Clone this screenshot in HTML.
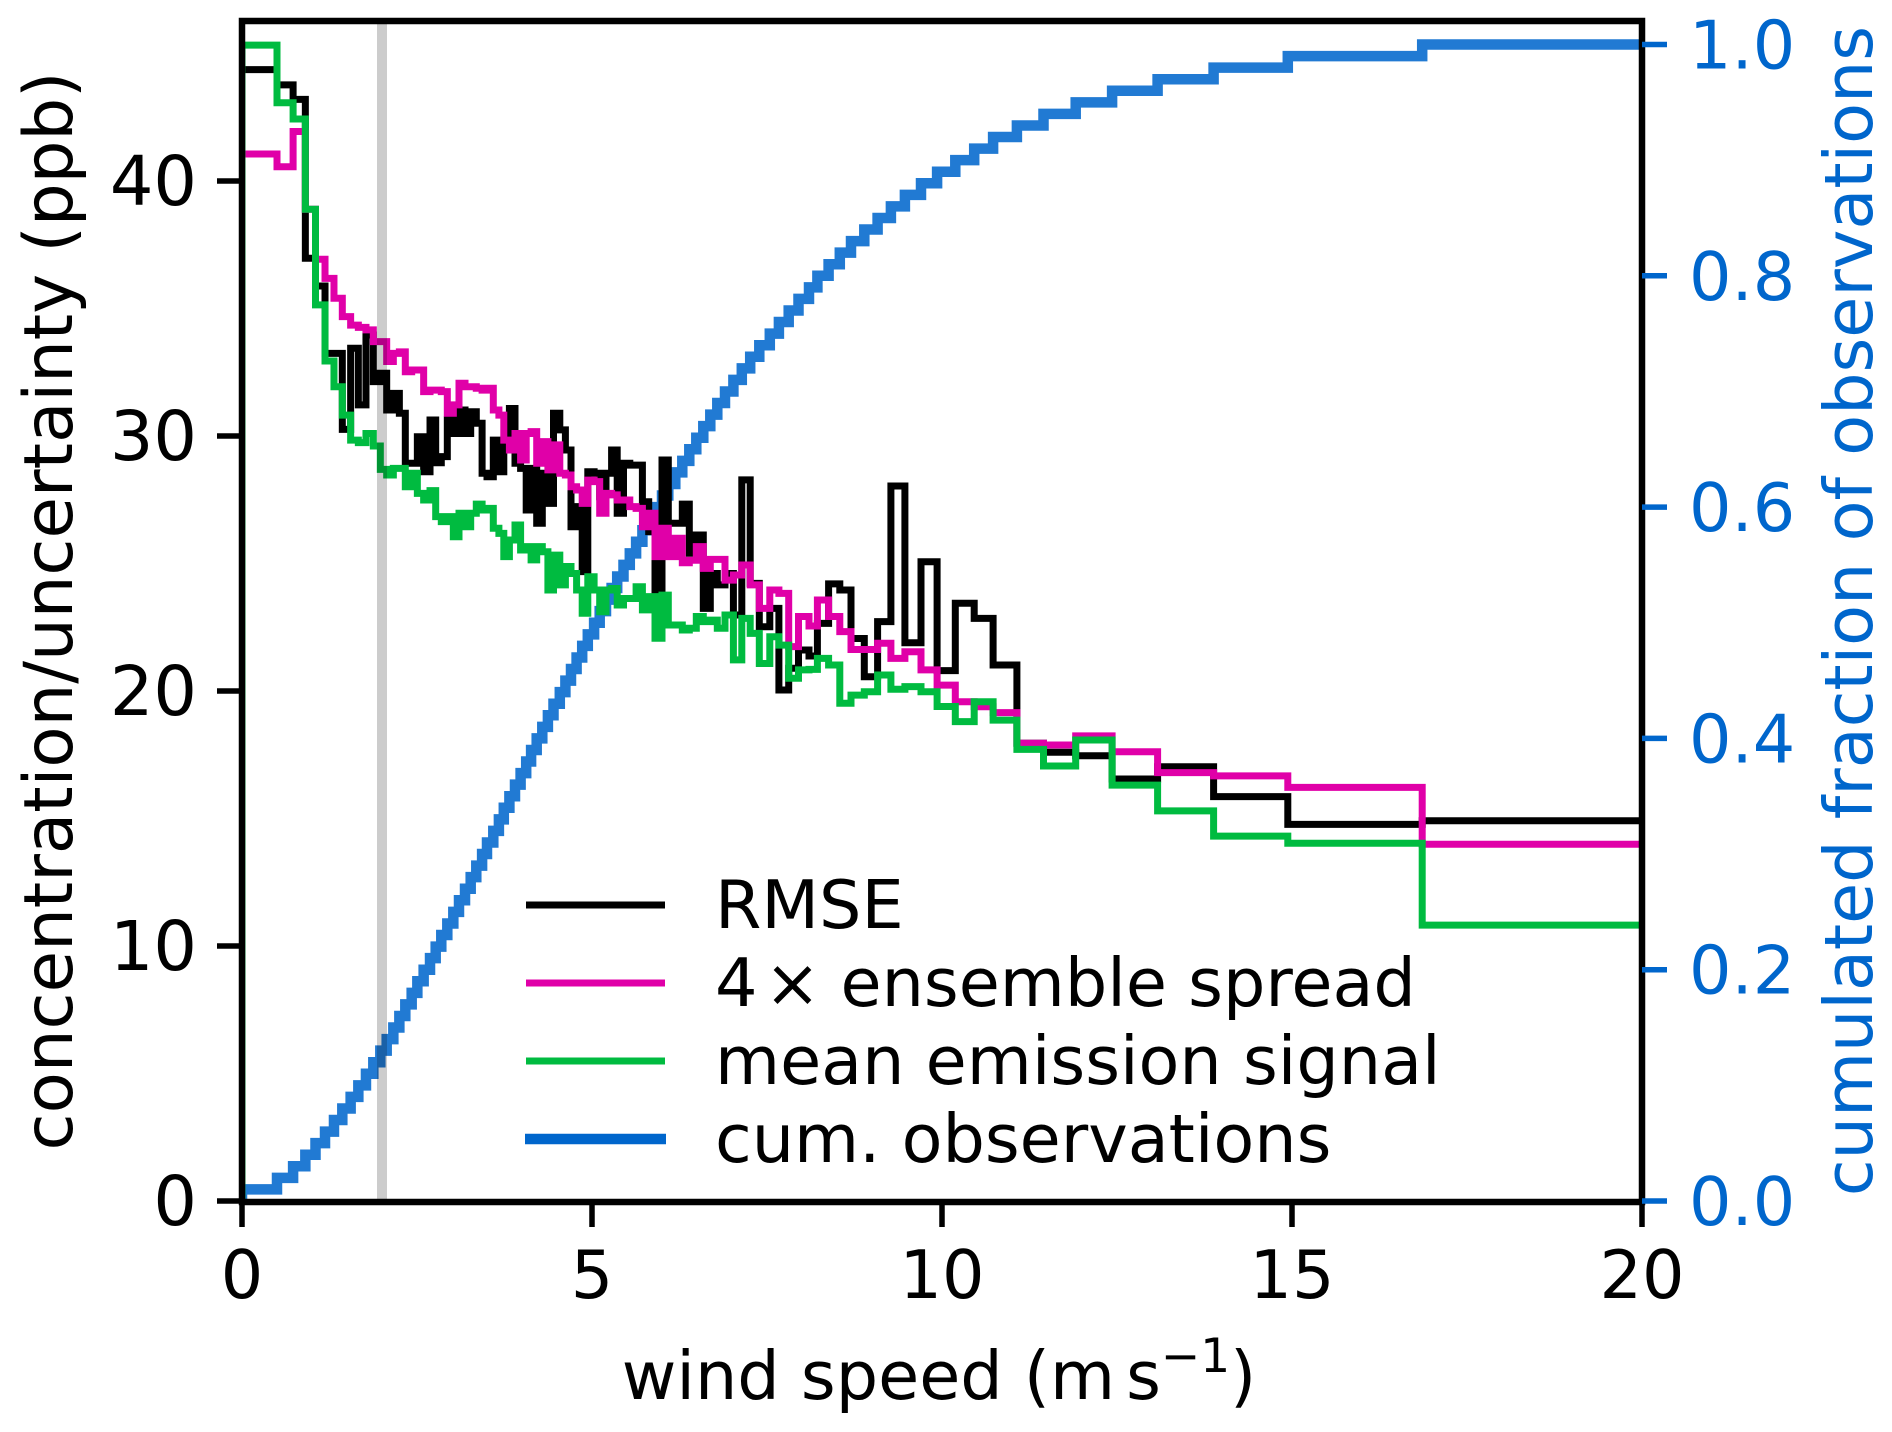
<!DOCTYPE html>
<html lang="en">
<head>
<meta charset="utf-8">
<title>Wind speed vs concentration uncertainty</title>
<style>
html,body{margin:0;padding:0;background:#fff;}
svg{display:block;}
text{font-family:"DejaVu Sans",sans-serif;font-size:66.8px;}
</style>
</head>
<body>
<svg id="chart" xmlns="http://www.w3.org/2000/svg" width="1892" height="1432" viewBox="0 0 1892 1432">
  <rect x="0" y="0" width="1892" height="1432" fill="#fff"/>
  <defs><clipPath id="plot-clip"><rect x="242" y="21" width="1400" height="1181"/></clipPath></defs>
  <g id="series-layer" clip-path="url(#plot-clip)"></g>
  <rect x="242" y="21" width="1400" height="1181" fill="none" stroke="#000" stroke-width="6.5"/>
  <g id="tick-layer"></g>
  <text x="939" y="1399" text-anchor="middle" fill="#000">wind speed (m<tspan dx="11">s</tspan><tspan dy="-27" style="font-size:47px">−1</tspan><tspan dy="27">)</tspan></text>
  <text transform="translate(72,611) rotate(-90)" text-anchor="middle" fill="#000" style="font-size:67.4px">concentration/uncertainty (ppb)</text>
  <text transform="translate(1872,611) rotate(-90)" text-anchor="middle" fill="#0066cc">cumulated fraction of observations</text>
  <g>
    <g>
      <line x1="526" x2="665" y1="905" y2="905" stroke="#000" stroke-width="7"/>
      <text x="715" y="928" fill="#000">RMSE</text>
    </g>
    <g>
      <line x1="526" x2="665" y1="983" y2="983" stroke="#e000a8" stroke-width="7"/>
      <text x="715" y="1006" fill="#000">4<tspan dx="7">×</tspan><tspan dx="20">ensemble spread</tspan></text>
    </g>
    <g>
      <line x1="526" x2="665" y1="1061" y2="1061" stroke="#00bb40" stroke-width="7"/>
      <text x="715" y="1084" fill="#000">mean emission signal</text>
    </g>
    <g>
      <line x1="525" x2="666" y1="1139" y2="1139" stroke="#0066cc" stroke-width="10.5"/>
      <text x="715" y="1162" fill="#000">cum. observations</text>
    </g>
  </g>
</svg>
<script>
const binEdges = [0,0.5,0.73,0.905,1.05,1.186,1.314,1.433,1.552,1.662,1.771,1.876,1.976,2.067,2.162,2.248,2.333,2.424,2.505,2.595,2.686,2.767,2.847,2.933,3.019,3.1,3.186,3.267,3.347,3.43,3.5,3.59,3.67,3.74,3.82,3.9,3.98,4.06,4.13,4.21,4.29,4.37,4.45,4.54,4.62,4.7,4.78,4.86,4.94,5.03,5.11,5.2,5.28,5.36,5.45,5.54,5.63,5.72,5.81,5.9,6.0,6.09,6.19,6.29,6.39,6.49,6.59,6.69,6.79,6.9,7.02,7.14,7.26,7.39,7.54,7.67,7.81,7.95,8.1,8.22,8.38,8.54,8.7,8.89,9.08,9.27,9.47,9.7,9.93,10.19,10.46,10.73,11.07,11.45,11.91,12.43,13.08,13.88,14.94,16.86,20];
const rmse = [44.37,43.77,43.2,36.97,35.88,33.24,33.24,30.26,33.44,31.22,33.96,32.13,32.46,31.02,31.67,30.89,28.93,28.93,29.97,28.6,30.63,28.95,29.19,30.63,30.1,31.02,30.1,30.95,30.5,28.54,28.4,29.84,28.6,29.58,31.08,28.93,28.73,27.1,28.73,26.58,28.54,27.36,30.89,30.24,29.45,26.44,27.23,24.68,28.6,28.54,27.62,28.54,29.45,26.97,28.93,28.86,28.86,27.42,26.25,23.76,29.06,26.58,26.58,27.33,25.4,26.12,23.24,24.61,24.16,24.61,22.98,28.28,24.22,22.52,23.24,20.04,20.89,21.61,21.37,22.65,24.2,23.96,22.06,20.56,22.72,28.04,21.89,25.07,20.8,23.44,22.85,21.02,17.95,17.6,17.46,16.55,17.03,15.86,14.77,14.91];
const spread = [41.06,40.56,41.94,38.89,36.93,36.18,35.4,34.68,34.35,34.26,34.16,33.7,33.7,32.92,33.24,33.3,32.52,32.59,32.59,31.74,31.8,31.8,31.74,30.89,31.22,32.07,31.93,31.93,31.87,31.8,31.87,31.02,30.82,29.84,29.45,30.1,29.06,30.1,30.17,28.93,29.78,28.67,29.65,28.54,28.47,28.01,27.88,27.36,28.27,28.21,26.97,27.75,27.69,27.49,27.49,27.23,27.16,26.44,26.97,25.27,26.38,25.27,25.99,25.03,25.13,25.66,24.81,25.16,25.16,24.35,24.55,24.94,24.16,23.24,23.96,23.83,21.74,22.92,22.55,23.57,22.92,22.33,21.63,21.63,21.87,21.28,21.54,20.83,20.23,19.58,19.38,19.15,17.95,17.88,18.24,17.62,16.8,16.67,16.22,13.99];
const signal = [45.33,43.07,42.43,38.89,35.14,32.94,31.93,30.82,29.84,29.74,30.1,29.61,28.69,28.47,28.73,28.73,28.01,28.54,27.75,27.49,27.86,26.84,26.64,26.84,26.05,26.97,26.44,26.97,27.33,27.1,27.16,26.38,26.18,25.27,25.92,26.51,25.53,25.66,25.14,25.66,25.46,23.96,25.33,24.16,24.88,24.61,23.96,23.05,24.48,23.96,23.11,23.96,24.02,23.37,23.63,23.63,24.09,23.18,23.7,22.07,23.76,22.59,22.59,22.39,22.46,22.92,22.72,22.78,22.46,22.98,21.22,22.85,22.26,21.08,22.13,21.8,20.5,20.83,20.85,21.28,21.02,19.52,19.84,19.97,20.63,20.07,20.17,19.97,19.39,18.8,19.58,18.86,17.71,17.06,18.08,16.31,15.3,14.31,14.03,10.82];
const cumObs = [0.01,0.02,0.03,0.04,0.05,0.06,0.07,0.08,0.09,0.1,0.11,0.12,0.13,0.14,0.15,0.16,0.17,0.18,0.19,0.2,0.21,0.22,0.23,0.24,0.25,0.26,0.27,0.28,0.29,0.3,0.31,0.32,0.33,0.34,0.35,0.36,0.37,0.38,0.39,0.4,0.41,0.42,0.43,0.44,0.45,0.46,0.47,0.48,0.49,0.5,0.51,0.52,0.53,0.54,0.55,0.56,0.57,0.58,0.59,0.6,0.61,0.62,0.63,0.64,0.65,0.66,0.67,0.68,0.69,0.7,0.71,0.72,0.73,0.74,0.75,0.76,0.77,0.78,0.79,0.8,0.81,0.82,0.83,0.84,0.85,0.86,0.87,0.88,0.89,0.9,0.91,0.92,0.93,0.94,0.95,0.96,0.97,0.98,0.99,1.0];
const xTickLabels = ["0","5","10","15","20"];
const yLeftTickLabels = ["0","10","20","30","40"];
const yRightTickLabels = ["0.0","0.2","0.4","0.6","0.8","1.0"];
const referenceWindSpeed = 2;

const SVG_NS = "http://www.w3.org/2000/svg";
const xScale = function (v) { return 242 + 70 * v; };
const yLeft = function (v) { return 1201 - 25.5 * v; };
const yRight = function (v) { return 1201 - 1156.5 * v; };

const seriesLayer = document.getElementById("series-layer");
const tickLayer = document.getElementById("tick-layer");

function make(tag, parent, attrs) {
  const node = document.createElementNS(SVG_NS, tag);
  Object.keys(attrs).forEach(function (k) { node.setAttribute(k, attrs[k]); });
  parent.appendChild(node);
  return node;
}

function stepPath(values, yFn) {
  let d = "M" + xScale(binEdges[0]).toFixed(2) + " " + yFn(0).toFixed(2);
  values.forEach(function (v, i) {
    const y = yFn(v).toFixed(2);
    d += "L" + xScale(binEdges[i]).toFixed(2) + " " + y;
    d += "L" + xScale(binEdges[i + 1]).toFixed(2) + " " + y;
  });
  return d;
}

const cumLine = make("path", seriesLayer, { d: stepPath(cumObs, yRight), fill: "none", stroke: "#0066cc", "stroke-opacity": "0.87", "stroke-width": "10.5", "stroke-linejoin": "miter", "stroke-miterlimit": "10" });



const rmseLine = make("path", seriesLayer, { d: stepPath(rmse, yLeft), fill: "none", stroke: "#000", "stroke-width": "7", "stroke-linejoin": "miter", "stroke-miterlimit": "10" });



const spreadLine = make("path", seriesLayer, { d: stepPath(spread, yLeft), fill: "none", stroke: "#e000a8", "stroke-width": "7", "stroke-linejoin": "miter", "stroke-miterlimit": "10" });



const signalLine = make("path", seriesLayer, { d: stepPath(signal, yLeft), fill: "none", stroke: "#00bb40", "stroke-width": "7", "stroke-linejoin": "miter", "stroke-miterlimit": "10" });



const refLine = make("line", seriesLayer, { x1: xScale(referenceWindSpeed), x2: xScale(referenceWindSpeed), y1: 21, y2: 1202, stroke: "#000", "stroke-opacity": "0.2", "stroke-width": "10" });



xTickLabels.forEach(function (label) {
  const x = xScale(Number(label));
  const tick = make("line", tickLayer, { x1: x, x2: x, y1: 1202, y2: 1227, stroke: "#000", "stroke-width": "5.5" });
  
  
  const text = make("text", tickLayer, { x: x, y: 1298, "text-anchor": "middle", fill: "#000" });
  text.textContent = label;
  
  
});

yLeftTickLabels.forEach(function (label) {
  const y = yLeft(Number(label));
  const tick = make("line", tickLayer, { x1: 217, x2: 242, y1: y, y2: y, stroke: "#000", "stroke-width": "5.5" });
  
  
  const text = make("text", tickLayer, { x: 197, y: y + 24, "text-anchor": "end", fill: "#000" });
  text.textContent = label;
  text.style.fontSize = "68.5px";
  
  
});

yRightTickLabels.forEach(function (label) {
  const y = yRight(Number(label));
  const tick = make("line", tickLayer, { x1: 1642, x2: 1667, y1: y, y2: y, stroke: "#0066cc", "stroke-width": "5.5" });
  
  
  const text = make("text", tickLayer, { x: 1689, y: y + 24, "text-anchor": "start", fill: "#0066cc" });
  text.textContent = label;
  
  
});
</script>
</body>
</html>
